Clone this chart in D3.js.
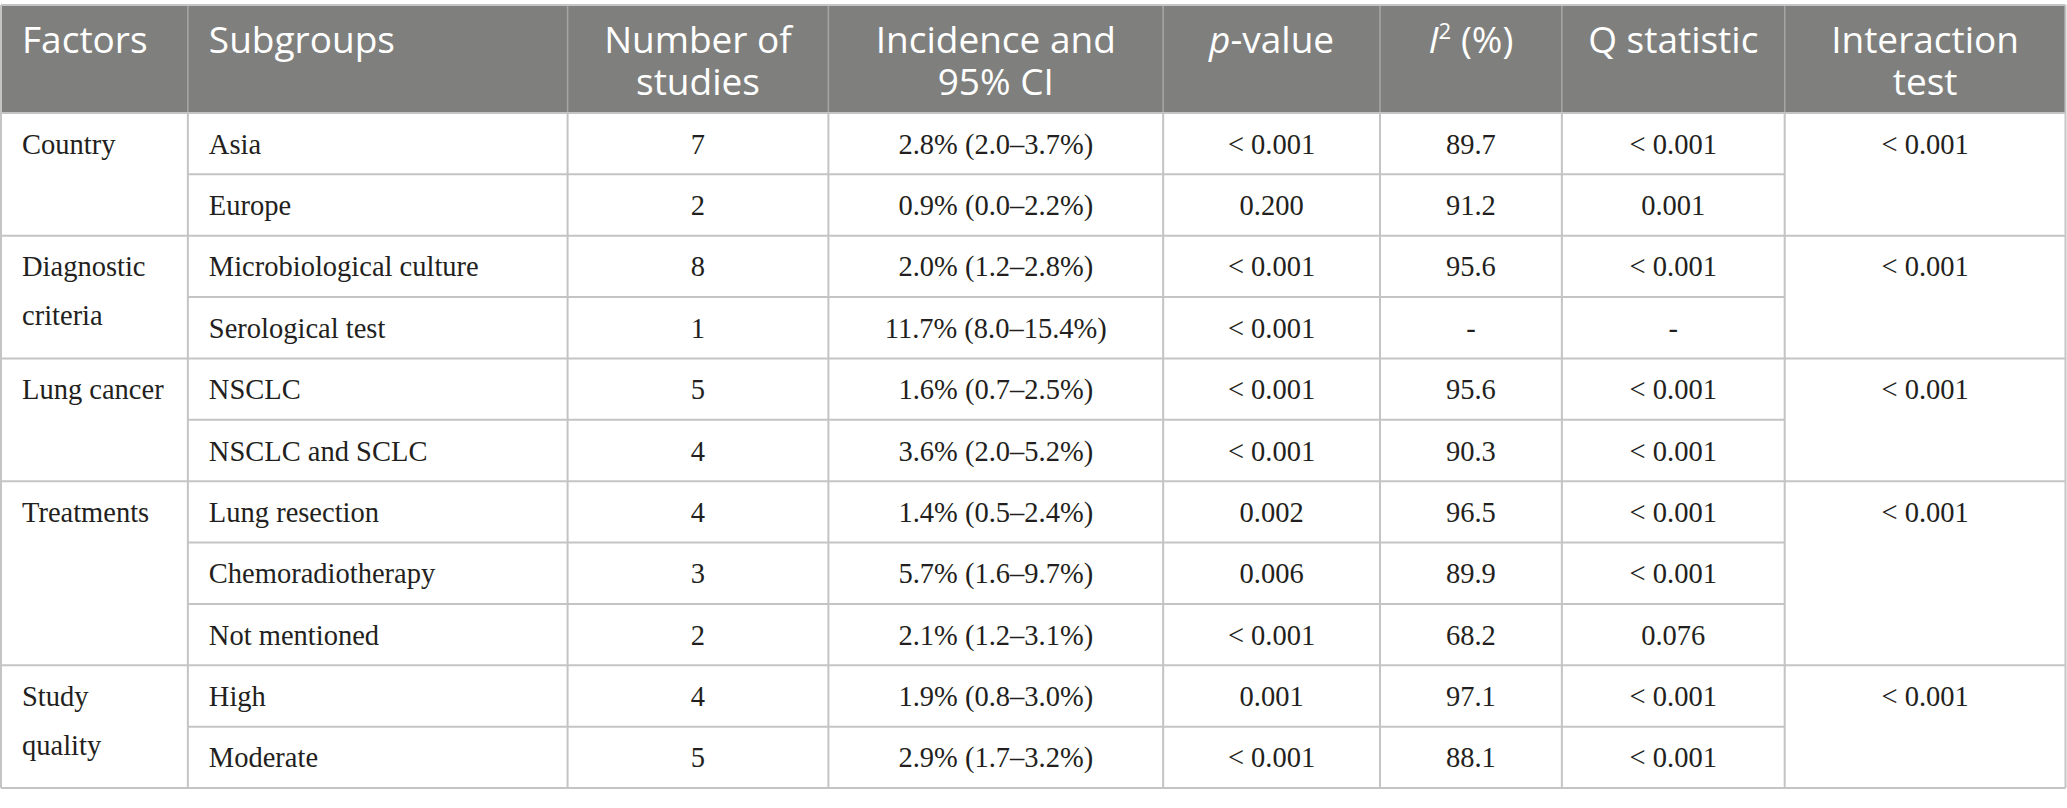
<!DOCTYPE html>
<html>
<head>
<meta charset="utf-8">
<script src="https://cdn.jsdelivr.net/npm/d3@7"></script>
<style>
  html, body { margin: 0; padding: 0; background: #ffffff; }
  svg { display: block; }
</style>
</head>
<body>
<svg id="chart" width="2067" height="808"></svg>
<script>
// ---------- data ----------
const headers = [
  ["Factors"],
  ["Subgroups"],
  ["Number of", "studies"],
  ["Incidence and", "95% CI"],
  ["p-value"],
  ["I2 (%)"],
  ["Q statistic"],
  ["Interaction", "test"]
];
const factorLabels = [["Country"], ["Diagnostic", "criteria"], ["Lung cancer"], ["Treatments"], ["Study", "quality"]];
const groupSizes = [2, 2, 2, 3, 2];
const interactionTest = ["< 0.001", "< 0.001", "< 0.001", "< 0.001", "< 0.001"];
const subgroups = ["Asia", "Europe", "Microbiological culture", "Serological test", "NSCLC", "NSCLC and SCLC",
  "Lung resection", "Chemoradiotherapy", "Not mentioned", "High", "Moderate"];
const nStudies = [7, 2, 8, 1, 5, 4, 4, 3, 2, 4, 5];
const incidence = [2.8, 0.9, 2.0, 11.7, 1.6, 3.6, 1.4, 5.7, 2.1, 1.9, 2.9];
const ciLow = [2.0, 0.0, 1.2, 8.0, 0.7, 2.0, 0.5, 1.6, 1.2, 0.8, 1.7];
const ciHigh = [3.7, 2.2, 2.8, 15.4, 2.5, 5.2, 2.4, 9.7, 3.1, 3.0, 3.2];
const pValues = ["< 0.001", "0.200", "< 0.001", "< 0.001", "< 0.001", "< 0.001", "0.002", "0.006", "< 0.001", "0.001", "< 0.001"];
const i2Values = ["89.7", "91.2", "95.6", "-", "95.6", "90.3", "96.5", "89.9", "68.2", "97.1", "88.1"];
const qValues = ["< 0.001", "0.001", "< 0.001", "-", "< 0.001", "< 0.001", "< 0.001", "< 0.001", "0.076", "< 0.001", "< 0.001"];

// ---------- layout ----------
const W = 2067, H = 808;
const colUnits = [187, 380, 261, 335, 217, 182, 223, 281]; // relative widths
const cum = [0]; colUnits.forEach(u => cum.push(cum[cum.length - 1] + u));
const xs = d3.scaleLinear().domain([0, cum[cum.length - 1]]).range([1, W - 1.5]);
const colX = i => xs(cum[i]);
const colMid = i => (xs(cum[i]) + xs(cum[i + 1])) / 2;

const headTop = 5, headBot = 113, tableBot = 788;
const ys = d3.scaleBand().domain(d3.range(subgroups.length)).range([headBot, tableBot]).padding(0);
const rh = ys.bandwidth();

const svg = d3.select("#chart");
const gridColor = "#c4c4c4";
const textColor = "#231f20";
const headFont = "'Open Sans', 'Noto Sans', sans-serif";
const bodyFont = "'Liberation Serif', 'Times New Roman', serif";
const headSize = 37, bodySize = 28.5;

// header background
svg.append("rect").attr("x", colX(0)).attr("y", headTop)
  .attr("width", colX(8) - colX(0)).attr("height", headBot - headTop)
  .attr("fill", "#7f807e");

// header text
headers.forEach((lines, i) => {
  const left = i < 2;
  const t = svg.append("text")
    .attr("x", left ? colX(i) + 21 : colMid(i))
    .attr("y", 53)
    .attr("text-anchor", left ? "start" : "middle")
    .attr("fill", "#ffffff")
    .attr("font-family", headFont)
    .attr("font-size", headSize);
  lines.forEach((ln, k) => {
    const ts = t.append("tspan").attr("x", left ? colX(i) + 21 : colMid(i)).attr("dy", k === 0 ? 0 : 42);
    if (ln === "p-value") {
      ts.append("tspan").attr("font-style", "italic").text("p");
      ts.append("tspan").text("-value");
    } else if (ln === "I2 (%)") {
      ts.append("tspan").attr("font-style", "italic").text("I");
      ts.append("tspan").attr("font-size", headSize * 0.6).attr("dy", -14).text("2");
      ts.append("tspan").attr("dy", 14).text(" (%)");
    } else {
      ts.text(ln);
    }
  });
});

// header separators
svg.selectAll("line.hsep").data(d3.range(1, 8)).enter().append("line")
  .attr("x1", i => colX(i)).attr("x2", i => colX(i))
  .attr("y1", headTop).attr("y2", headBot)
  .attr("stroke", "#a6a6a6").attr("stroke-width", 1.5);

// group starts
const groupStart = [];
let acc = 0;
groupSizes.forEach(s => { groupStart.push(acc); acc += s; });
const isGroupStart = d3.range(subgroups.length).map(r => groupStart.includes(r));

// horizontal row lines (inner rows span middle columns, group lines full width)
svg.selectAll("line.row").data(d3.range(subgroups.length)).enter().append("line")
  .attr("x1", r => isGroupStart[r] ? colX(0) : colX(1))
  .attr("x2", r => isGroupStart[r] ? colX(8) : colX(7))
  .attr("y1", r => ys(r)).attr("y2", r => ys(r))
  .attr("stroke", gridColor).attr("stroke-width", 2);

// bottom & top border
svg.append("line").attr("x1", colX(0)).attr("x2", colX(8)).attr("y1", tableBot).attr("y2", tableBot)
  .attr("stroke", gridColor).attr("stroke-width", 2);
svg.append("line").attr("x1", colX(0)).attr("x2", colX(8)).attr("y1", headTop).attr("y2", headTop)
  .attr("stroke", gridColor).attr("stroke-width", 2);

// vertical lines in body
svg.selectAll("line.vcol").data(d3.range(0, 9)).enter().append("line")
  .attr("x1", i => colX(i)).attr("x2", i => colX(i))
  .attr("y1", i => (i === 0 || i === 8) ? headTop : headBot).attr("y2", tableBot)
  .attr("stroke", gridColor).attr("stroke-width", 2);

// body text helper
function cellText(x, y, anchor, txt) {
  return svg.append("text").attr("x", x).attr("y", y)
    .attr("text-anchor", anchor).attr("fill", textColor)
    .attr("font-family", bodyFont).attr("font-size", bodySize).text(txt);
}
const base = r => ys(r) + rh / 2 + 10;

// factor cells and interaction
factorLabels.forEach((lines, g) => {
  const r0 = groupStart[g];
  lines.forEach((ln, k) => cellText(colX(0) + 21, base(r0) + k * 49, "start", ln));
  cellText(colMid(7), base(r0), "middle", interactionTest[g]);
});

// row cells
subgroups.forEach((s, r) => {
  cellText(colX(1) + 21, base(r), "start", s);
  cellText(colMid(2), base(r), "middle", nStudies[r]);
  cellText(colMid(3), base(r), "middle",
    `${incidence[r].toFixed(1)}% (${ciLow[r].toFixed(1)}\u2013${ciHigh[r].toFixed(1)}%)`);
  cellText(colMid(4), base(r), "middle", pValues[r]);
  cellText(colMid(5), base(r), "middle", i2Values[r]);
  cellText(colMid(6), base(r), "middle", qValues[r]);
});
</script>
</body>
</html>
